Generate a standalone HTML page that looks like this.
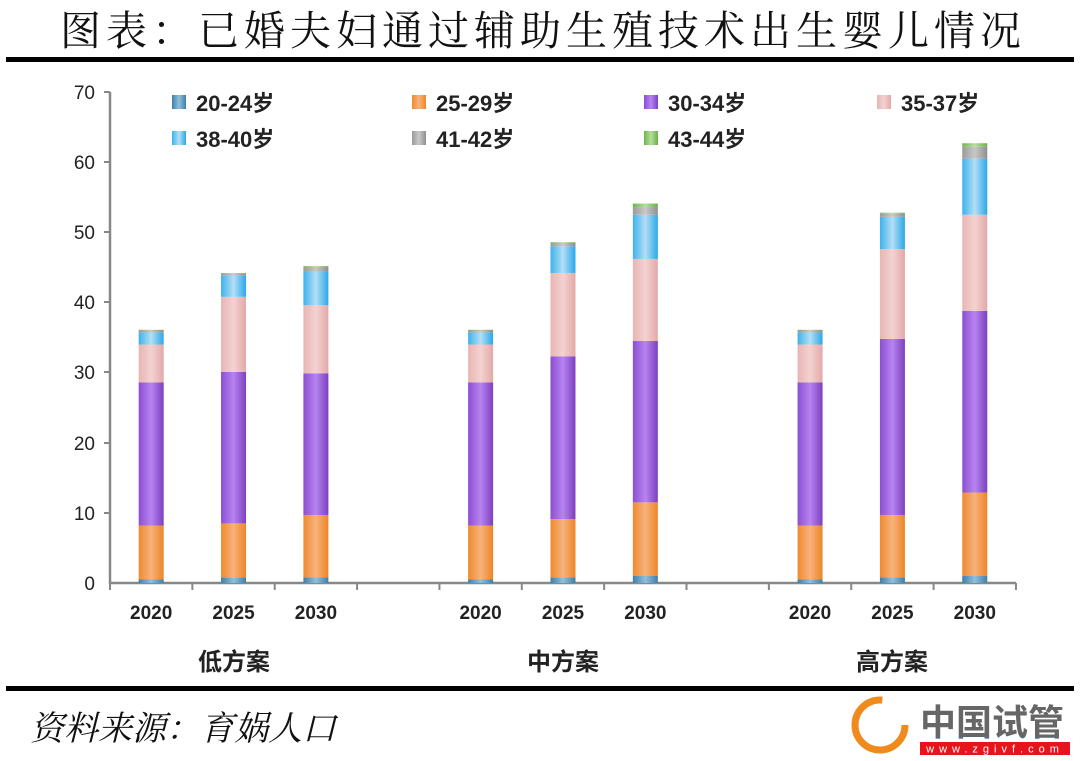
<!DOCTYPE html>
<html><head><meta charset="utf-8"><style>
html,body{margin:0;padding:0;background:#fff;}
svg{display:block;}
</style></head><body>
<svg width="1080" height="761" viewBox="0 0 1080 761" xmlns="http://www.w3.org/2000/svg" font-family="Liberation Sans, Noto Sans CJK SC, sans-serif">
<defs>
<linearGradient id="g1" x1="0" x2="1"><stop offset="0" stop-color="#3f7fa8"/><stop offset=".5" stop-color="#8fc0dd"/><stop offset="1" stop-color="#3f7fa8"/></linearGradient>
<linearGradient id="g2" x1="0" x2="1"><stop offset="0" stop-color="#ef8a2f"/><stop offset=".5" stop-color="#f7b27c"/><stop offset="1" stop-color="#ee8526"/></linearGradient>
<linearGradient id="g3" x1="0" x2="1"><stop offset="0" stop-color="#8b4fd0"/><stop offset=".5" stop-color="#b783f1"/><stop offset="1" stop-color="#7d3fbf"/></linearGradient>
<linearGradient id="g4" x1="0" x2="1"><stop offset="0" stop-color="#e7b5b3"/><stop offset=".5" stop-color="#f3d2d1"/><stop offset="1" stop-color="#e2a9a8"/></linearGradient>
<linearGradient id="g5" x1="0" x2="1"><stop offset="0" stop-color="#3cb2ec"/><stop offset=".5" stop-color="#b4def5"/><stop offset="1" stop-color="#2aa8ea"/></linearGradient>
<linearGradient id="g6" x1="0" x2="1"><stop offset="0" stop-color="#9a9a9a"/><stop offset=".5" stop-color="#c8c8c8"/><stop offset="1" stop-color="#8f8f8f"/></linearGradient>
<linearGradient id="g7" x1="0" x2="1"><stop offset="0" stop-color="#6fb64a"/><stop offset=".5" stop-color="#b5dea0"/><stop offset="1" stop-color="#6ab045"/></linearGradient>
</defs>
<text x="543" y="45" text-anchor="middle" font-size="41" font-family="Noto Serif CJK SC, serif" fill="#111" letter-spacing="5">图表：已婚夫妇通过辅助生殖技术出生婴儿情况</text>
<rect x="6" y="57" width="1068" height="5" fill="#000"/>
<rect x="6" y="686" width="1068" height="5" fill="#000"/>
<text x="30" y="740" font-size="34" font-family="Noto Serif CJK SC, serif" font-style="italic" fill="#111">资料来源：育娲人口</text>
<circle cx="880" cy="725" r="25" fill="none" stroke="#f08a1c" stroke-width="7" stroke-dasharray="120 40"/>
<text x="920" y="735" font-size="36" font-weight="bold" fill="#666" font-family="Noto Sans CJK SC, sans-serif">中国试管</text>
<rect x="920" y="742" width="150" height="13" fill="#e8141c"/>
<text x="995" y="752.5" text-anchor="middle" font-size="11" fill="#fff" letter-spacing="5">www.zgivf.com</text>
<g stroke="#888" stroke-width="2.5">
<line x1="110" y1="92" x2="110" y2="584"/>
<line x1="110" y1="583" x2="1016" y2="583"/>
</g>
<g stroke="#888" stroke-width="2">
<line x1="104" y1="92" x2="110" y2="92"/><line x1="104" y1="162" x2="110" y2="162"/><line x1="104" y1="232" x2="110" y2="232"/><line x1="104" y1="302" x2="110" y2="302"/><line x1="104" y1="372" x2="110" y2="372"/><line x1="104" y1="443" x2="110" y2="443"/><line x1="104" y1="513" x2="110" y2="513"/>
</g>
<g font-size="19" fill="#222" text-anchor="end">
<text x="95" y="99">70</text><text x="95" y="169">60</text><text x="95" y="239">50</text><text x="95" y="309">40</text><text x="95" y="379">30</text><text x="95" y="450">20</text><text x="95" y="520">10</text><text x="95" y="590">0</text>
</g>
<g id="ticks" stroke="#888" stroke-width="2"></g>
<g id="bars"></g>
<g id="xl" font-size="19" font-weight="bold" fill="#222" text-anchor="middle"></g>
<g font-size="24" font-weight="bold" fill="#222" text-anchor="middle" font-family="Noto Sans CJK SC, sans-serif">
<text x="234" y="670">低方案</text><text x="563" y="670">中方案</text><text x="892" y="670">高方案</text>
</g>
<g font-size="22" font-weight="bold" fill="#222">
<rect x="172" y="95" width="14" height="14" fill="url(#g1)"/><text x="196" y="111">20-24岁</text>
<rect x="412" y="95" width="14" height="14" fill="url(#g2)"/><text x="436" y="111">25-29岁</text>
<rect x="644" y="95" width="14" height="14" fill="url(#g3)"/><text x="668" y="111">30-34岁</text>
<rect x="877" y="95" width="14" height="14" fill="url(#g4)"/><text x="901" y="111">35-37岁</text>
<rect x="172" y="131" width="14" height="14" fill="url(#g5)"/><text x="196" y="147">38-40岁</text>
<rect x="412" y="131" width="14" height="14" fill="url(#g6)"/><text x="436" y="147">41-42岁</text>
<rect x="644" y="131" width="14" height="14" fill="url(#g7)"/><text x="668" y="147">43-44岁</text>
</g>
<script>
var d=[[0,[0.5,8.2,28.6,34,35.7,36,36.1]],[1,[0.8,8.5,30.1,40.8,43.8,44.1,44.2]],[2,[0.8,9.7,29.9,39.6,44.4,45.1,45.2]],
[4,[0.5,8.2,28.6,34,35.7,36,36.1]],[5,[0.8,9.1,32.3,44.2,48.0,48.5,48.6]],[6,[1.0,11.5,34.5,46.2,52.5,53.6,54.1]],
[8,[0.5,8.2,28.6,34,35.7,36,36.1]],[9,[0.8,9.7,34.8,47.6,52.2,52.7,52.8]],[10,[1.0,12.9,38.8,52.5,60.5,62.2,62.7]]];
var ns="http://www.w3.org/2000/svg",b=document.getElementById('bars'),xl=document.getElementById('xl'),tk=document.getElementById('ticks');
var w=82.36,y0=583,s=7.014;
for(var i=0;i<=11;i++){var l=document.createElementNS(ns,'line');var x=110+w*i;l.setAttribute('x1',x);l.setAttribute('x2',x);l.setAttribute('y1',583);l.setAttribute('y2',590);tk.appendChild(l);}
var yrs=['2020','2025','2030'];
d.forEach(function(r,k){var cx=110+w*(r[0]+0.5);var prev=0;
r[1].forEach(function(v,j){var rc=document.createElementNS(ns,'rect');rc.setAttribute('x',cx-12.5);rc.setAttribute('width',25);rc.setAttribute('y',y0-v*s);rc.setAttribute('height',(v-prev)*s);rc.setAttribute('fill','url(#g'+(j+1)+')');b.appendChild(rc);prev=v;});
var t=document.createElementNS(ns,'text');t.setAttribute('x',cx);t.setAttribute('y',619);t.textContent=yrs[k%3];xl.appendChild(t);});
</script>
</svg>
</body></html>
